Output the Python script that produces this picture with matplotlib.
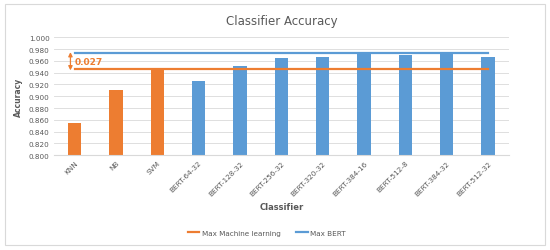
import numpy as np
import matplotlib
matplotlib.use("Agg")
import matplotlib.pyplot as plt
from matplotlib.patches import Rectangle

classifiers = ["KNN", "NB", "SVM", "BERT-64-32", "BERT-128-32", "BERT-256-32",
               "BERT-320-32", "BERT-384-16", "BERT-512-8", "BERT-384-32", "BERT-512-32"]
accuracy = [0.855, 0.911, 0.946, 0.926, 0.952, 0.965, 0.967, 0.974, 0.970, 0.973, 0.967]
is_bert = [False, False, False, True, True, True, True, True, True, True, True]
max_ml = 0.946
max_bert = 0.973

orange = "#ED7D31"
blue = "#5B9BD5"
grey = "#595959"

fig = plt.figure(figsize=(5.5, 2.51), dpi=100)
fig.patches.append(Rectangle((0.009, 0.02), 0.982, 0.96, transform=fig.transFigure,
                             fill=False, edgecolor="#D9D9D9", linewidth=0.8))
ax = fig.add_axes([0.098, 0.378, 0.827, 0.469])

x = np.arange(len(classifiers))
colors = [blue if b else orange for b in is_bert]
ax.bar(x, np.array(accuracy) - 0.8, bottom=0.8, width=0.32, color=colors, zorder=2)

ax.plot([x[0], x[-1]], [max_ml, max_ml], color=orange, lw=1.6, zorder=3,
        label="Max Machine learning")
ax.plot([x[0], x[-1]], [max_bert, max_bert], color=blue, lw=1.6, zorder=3,
        label="Max BERT")

ax.annotate("", xy=(-0.1, max_bert + 0.002), xytext=(-0.1, max_ml - 0.002),
            arrowprops=dict(arrowstyle="<|-|>", color=orange, lw=0.9,
                            mutation_scale=6, shrinkA=0, shrinkB=0))
ax.text(0.0, (max_ml + max_bert) / 2, "%.3f" % (max_bert - max_ml), color=orange,
        fontsize=6.5, fontweight="bold", va="center", ha="left")

ax.set_xlim(-0.5, len(classifiers) - 0.5)
ax.set_ylim(0.8, 1.0)
ax.set_yticks(np.arange(0.8, 1.0001, 0.02))
ax.set_yticklabels(["%.3f" % v for v in np.arange(0.8, 1.0001, 0.02)])
ax.set_xticks(x)
ax.set_xticklabels(classifiers, rotation=45, ha="right", rotation_mode="anchor")
ax.tick_params(length=0, labelsize=5.2, labelcolor=grey, pad=3)
ax.grid(axis="y", color="#D9D9D9", lw=0.6, zorder=0)
for s in ["top", "right", "left"]:
    ax.spines[s].set_visible(False)
ax.spines["bottom"].set_color("#D9D9D9")

ax.set_title("Classifier Accuracy", fontsize=8.5, color=grey, pad=10)
ax.set_ylabel("Accuracy", fontsize=5.5, fontweight="bold", color=grey, labelpad=4)
ax.set_xlabel("Classifier", fontsize=6, fontweight="bold", color=grey, labelpad=4)

fig.legend(loc="lower center", bbox_to_anchor=(0.485, 0.03), ncol=2, frameon=False,
           fontsize=5.2, labelcolor=grey, handlelength=1.6, handletextpad=0.3,
           columnspacing=2.2)

fig.savefig("out.png", dpi=100)
